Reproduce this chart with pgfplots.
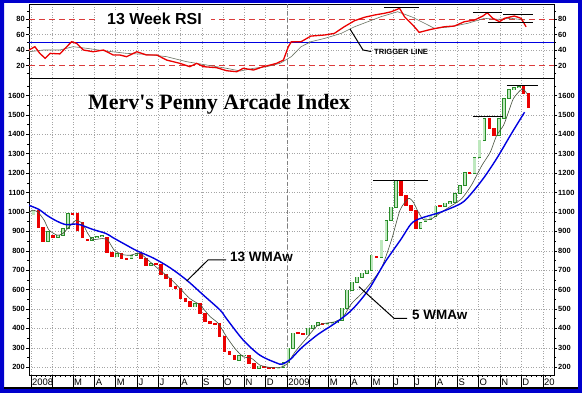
\documentclass[border=0pt]{standalone}
\usepackage{pgfplots}
\pgfplotsset{compat=1.18}
\usepackage{pgfplotstable}
\usepackage{fontspec}
\setmainfont{Liberation Sans}
\newfontfamily\timesf{Liberation Serif}
\definecolor{frameblue}{RGB}{0,0,205}
\definecolor{upgreen}{RGB}{40,140,40}
\definecolor{upfill}{RGB}{190,232,190}
\definecolor{dnred}{RGB}{235,0,0}
\definecolor{wmablue}{RGB}{0,0,225}
\definecolor{wmafive}{RGB}{70,80,60}
\definecolor{gridgray}{RGB}{165,165,165}
\definecolor{dashred}{RGB}{220,60,60}

% weekly candles: week index, open, close
\pgfplotstableread{
w o c
0 985 1010
3 848 900
5 870 880
6 880 915
7 915 990
12 852 868
13 868 872
14 872 878
17 768 787
20 760 775
21 775 787
24 726 735
33 511 528
42 237 258
43 258 263
46 194 205
50 197 200
51 200 222
52 222 298
53 298 376
56 366 401
57 401 417
58 417 428
60 420 425
61 422 428
62 428 443
63 443 504
64 504 597
65 597 638
66 638 664
67 664 684
68 684 700
69 700 777
71 767 854
72 854 957
73 957 1024
74 1024 1163
79 916 945
80 950 968
81 960 978
82 978 1030
84 1030 1045
85 1045 1052
86 1050 1095
87 1095 1137
88 1137 1204
90 1200 1281
91 1281 1370
92 1370 1482
95 1394 1482
96 1482 1585
97 1585 1630
98 1630 1640
99 1640 1645
}\upc

\pgfplotstableread{
w o c
1 1010 920
2 920 848
4 880 868
8 990 985
9 990 905
10 945 870
11 858 852
15 870 790
16 790 768
18 787 760
19 760 758
22 787 762
23 762 726
25 735 728
26 728 676
27 676 657
28 657 614
29 614 605
30 605 554
31 554 537
32 537 511
34 528 477
35 477 434
36 434 425
37 425 422
38 425 357
39 357 280
40 280 263
41 263 237
44 263 220
45 220 194
47 203 199
48 200 197
49 198 196
54 378 374
55 376 366
59 428 422
70 770 764
75 1163 1086
76 1086 1034
77 1034 1008
78 1008 916
83 1032 1028
89 1204 1198
93 1482 1430
94 1430 1394
100 1645 1610
101 1610 1538
}\dnc

\pgfplotsset{
  panel/.style={
    scale only axis, width=525bp, anchor=south west,
    xmin=-0.4, xmax=106.7,
    xtick={0,4.43,8.57,13,17.29,21.71,26,30.43,34.86,39.14,43.57,47.86,52.29,56.71,60.71,65.14,69.43,73.86,78.14,82.57,87,91.29,95.71,100,104.43},
    grid style={gridgray, dash pattern=on 1bp off 1.6bp, line width=0.45bp},
    axis line style={black, line width=0.6bp},
    tick style={black, line width=0.5bp},
    tick align=outside, major tick length=3bp, minor tick length=2bp,
    yticklabel style={font=\fontsize{7.5}{8}\selectfont\bfseries, inner sep=1bp},
    /pgf/number format/assume math mode=true,
    /pgf/number format/1000 sep={},
  },
  candle/.style 2 args={draw=none, mark=none, forget plot,
    error bars/.cd, y dir=both, y explicit, error mark=none,
    error bar style={line width=#1, draw=#2}},
}

\begin{document}
\begin{tikzpicture}
\useasboundingbox (0,0) rectangle (582bp,393bp);
\fill[white] (0,0) rectangle (582bp,393bp);

% ===== main price panel =====
\begin{axis}[panel, at={(29bp,18bp)}, height=297bp,
  ymin=160, ymax=1690,
  ytick={200,300,...,1600}, minor ytick={250,350,...,1650},
  ymajorgrids, xmajorgrids,
  ytick pos=left, xtick pos=left,
  minor xtick={0,1,...,106},
  xticklabels={2008,,M,A,M,J,J,A,S,O,N,D,2009,,M,A,M,J,J,A,S,O,N,D,20},
  xticklabel style={anchor=north west, font=\fontsize{9.5}{10}\selectfont, inner sep=0pt, xshift=1bp, yshift=-0.5bp},
  clip=true]
\draw[gray, dash pattern=on 4bp off 3bp, line width=0.6bp] (axis cs:52.29,160) -- (axis cs:52.29,1690);
% up candles (hollow green)
\addplot[candle={3.6bp}{upgreen}]
  table[x expr=\thisrow{w}+0.5, y expr=(\thisrow{o}+\thisrow{c})/2, y error expr={(\thisrow{c}-\thisrow{o})/2+2.5}] {\upc};
\addplot[candle={2.2bp}{upfill}]
  table[x expr=\thisrow{w}+0.5, y expr=(\thisrow{o}+\thisrow{c})/2, y error expr={max((\thisrow{c}-\thisrow{o})/2-1.1,0)}] {\upc};
% down candles (red)
\addplot[candle={3.6bp}{dnred}]
  table[x expr=\thisrow{w}+0.5, y expr=(\thisrow{o}+\thisrow{c})/2, y error expr={(\thisrow{o}-\thisrow{c})/2+2}] {\dnc};
% 5 WMAw
\addplot[wmafive, line width=0.6bp, smooth, tension=0.4] coordinates {
(-0.4,995)(0.3,1009)(1.4,1000)(2.7,957)(3.7,906)(5.4,880)(6.5,889)(7.8,923)(9.2,957)(10.5,940)(11.6,889)(12.6,858)(14.6,863)(15.7,854)(17,803)(18.7,780)(20.2,777)(22.2,786)(24.3,743)(26.3,700)(28.4,657)(30.4,606)(32.4,554)(34.5,520)(36.5,462)(38.2,426)(39.9,357)(41.6,297)(43.3,254)(45,246)(46.7,211)(48.8,199)(50.8,199)(52.2,216)(53.9,280)(55.9,340)(58.6,417)(62,434)(63.7,460)(65.4,528)(67.5,580)(69.5,640)(71.6,717)(73.6,860)(75.3,1010)(77,1069)(78,1051)(79,1000)(80.1,960)(81.8,966)(83.8,1000)(85.9,1034)(87.9,1069)(89.9,1140)(92,1240)(93.7,1308)(95,1394)(96.4,1446)(97.4,1514)(98.4,1583)(99.8,1626)(100.5,1631)(101.2,1609)};
% 13 WMAw
\addplot[wmablue, line width=1.4bp, smooth, tension=0.5] coordinates {
(-0.4,1034)(1.7,1012)(3.1,985)(5.1,955)(7.1,935)(9.2,938)(10.2,933)(12.6,910)(15.3,889)(16.7,868)(19.4,830)(21.6,800)(25,762)(28.4,712)(31.8,648)(35.2,571)(38.6,494)(39.9,450)(43.3,340)(46.7,262)(50.1,222)(51.2,216)(52.9,240)(55.2,300)(58.6,370)(62,426)(65.4,494)(68.8,597)(72.2,740)(75.5,860)(77.6,940)(79.6,968)(83.7,1000)(87.8,1045)(89.8,1094)(92.5,1180)(95.2,1283)(98,1403)(100.7,1514)};
% peak lines
\addplot[black, line width=1.3bp] coordinates {(69.8,1163)(81,1163)};
\addplot[black, line width=1.3bp] coordinates {(90.2,1492)(96.3,1492)};
\addplot[black, line width=1.3bp] coordinates {(97.1,1651)(103.5,1651)};
\end{axis}

% right labels for main panel
\begin{axis}[panel, at={(29bp,18bp)}, height=297bp,
  ymin=160, ymax=1690,
  ytick={200,300,...,1600}, minor ytick={250,350,...,1650},
  ytick pos=right, yticklabel pos=right, xtick=\empty,
  axis line style={draw=none}]
\addplot[draw=none] coordinates {(0,500)};
\end{axis}

% ===== RSI panel =====
\begin{axis}[panel, at={(29bp,315bp)}, height=74bp,
  ymin=3.9, ymax=99.4,
  ytick={20,40,60,80}, minor ytick={10,30,50,70,90},
  ytick pos=left, xticklabels={}, xtick style={draw=none},
  xmajorgrids, extra y ticks={40,60}, extra y tick labels={}, extra y tick style={grid=major, tick style={draw=none}},
  clip=true]
\draw[gray, dash pattern=on 4bp off 3bp, line width=0.6bp] (axis cs:52.29,3.9) -- (axis cs:52.29,99.4);
\addplot[dashred, line width=0.8bp, dash pattern=on 6bp off 4bp] coordinates {(-0.4,80)(106.7,80)};
\addplot[dashred, line width=0.8bp, dash pattern=on 6bp off 4bp] coordinates {(-0.4,20)(106.7,20)};
\addplot[wmablue, line width=1bp] coordinates {(-0.4,50)(106.7,50)};
% trigger line
\addplot[wmafive!80, line width=0.6bp] coordinates {
(-0.4,37.8)(2.5,40)(5.9,40)(8.6,44.3)(11.4,42.2)(14.8,39.1)(19.5,35.7)(23.6,34.4)(27.7,31.4)(31.8,24.9)(35.9,20.6)(39.9,16.4)(42.7,12.9)(45.4,16.4)(48.1,18.5)(50.8,22.8)(53.1,31.4)(55.1,44.3)(57.1,50.7)(59.9,55)(63.3,61.5)(66,70)(68.7,76.5)(71.4,83)(74.8,89.4)(77.6,83)(80.3,74.5)(82.3,68)(85.7,70)(89.1,74.5)(92.5,80.9)(95.2,79.6)(98,80.9)(100.7,78.7)};
% 13 week RSI
\addplot[dnred, line width=1.3bp] coordinates {
(-0.4,40)(0.8,44.3)(1.8,35.7)(2.9,29.3)(3.9,35.7)(5.9,35)(7.3,44.3)(8.3,50.7)(9.3,48.6)(10.7,40)(12.7,37.8)(14.8,40)(16.8,33.5)(18.2,33.5)(19.5,31.4)(21.6,37.8)(23.6,33.5)(25.7,33.5)(27.7,27)(30.4,22.8)(32.4,18.5)(33.8,22.8)(35.2,18.5)(37.9,17.2)(39.9,13.3)(42,12)(43.3,16.4)(45.4,14.2)(47.4,18.5)(48.8,20.6)(50.1,22.8)(51.5,27)(52.5,44.3)(53.1,50.5)(55.1,50.7)(57.1,58)(59.9,59.4)(61.9,61.5)(63.9,70)(66,77.8)(68,82.2)(70.1,85.2)(72.1,87.4)(73.5,89.4)(75.2,93.8)(76.2,83)(77.9,72.3)(79.2,62.8)(81.6,66.7)(84.3,70)(86.4,71)(88.4,76.5)(90.5,78.7)(92.2,83.9)(93.1,88.1)(94.2,80.9)(95.6,76.5)(96.6,80.9)(98.6,83.9)(100,80.9)(101,70)};
\addplot[black, line width=1.1bp] coordinates {(72,95)(79.2,95)};
\addplot[black, line width=1.1bp] coordinates {(90.2,88.6)(96.1,88.6)};
\addplot[black, line width=1.1bp] coordinates {(96.3,86)(102.4,86)};
\addplot[black, line width=1.1bp] coordinates {(93.3,75)(102.4,75)};
\end{axis}

\begin{axis}[panel, at={(29bp,315bp)}, height=74bp,
  ymin=3.9, ymax=99.4,
  ytick={20,40,60,80}, minor ytick={10,30,50,70,90},
  ytick pos=right, yticklabel pos=right, xtick=\empty,
  axis line style={draw=none}]
\addplot[draw=none] coordinates {(0,50)};
\end{axis}

% month separators on the date row
\foreach \u in {0,4.43,8.57,13,17.29,21.71,26,30.43,34.86,39.14,43.57,47.86,52.29,56.71,60.71,65.14,69.43,73.86,78.14,82.57,87,91.29,95.71,100,104.43}
  \draw[black, line width=0.5bp] ({(29+(\u+0.4)*4.902)*1bp},18bp) -- ++(0,-12bp);

% texts
\node[anchor=base west, inner sep=0pt, font=\timesf\bfseries\fontsize{22}{24}\selectfont] at (88bp,283bp) {Merv's Penny Arcade Index};
\node[anchor=base west, fill=white, inner xsep=9bp, inner ysep=2bp, font=\bfseries\fontsize{16}{18}\selectfont] at (98bp,368bp) {13 Week RSI};
\node[anchor=base west, inner sep=0pt, font=\bfseries\fontsize{7.6}{8}\selectfont] at (374bp,338bp) {TRIGGER LINE};
\draw[black, line width=1bp] (350bp,364bp) -- (363bp,343bp) -- (371bp,341.5bp);
\node[anchor=base west, inner sep=0pt, font=\bfseries\fontsize{13.5}{15}\selectfont] at (230bp,131.5bp) {13 WMAw};
\draw[black, line width=1bp] (186.7bp,112bp) -- (208bp,133bp) -- (226bp,133bp);
\node[anchor=base west, inner sep=0pt, font=\bfseries\fontsize{13.5}{15}\selectfont] at (412bp,73bp) {5 WMAw};
\draw[black, line width=1bp] (359bp,106.3bp) -- (394bp,74.7bp) -- (407bp,74.7bp);

% frame
\fill[frameblue, even odd rule] (0,0) rectangle (582bp,393bp) (4bp,4bp) rectangle (578bp,390bp);
\fill[black] (4bp,4bp) rectangle (578bp,6.3bp);
\end{tikzpicture}
\end{document}
